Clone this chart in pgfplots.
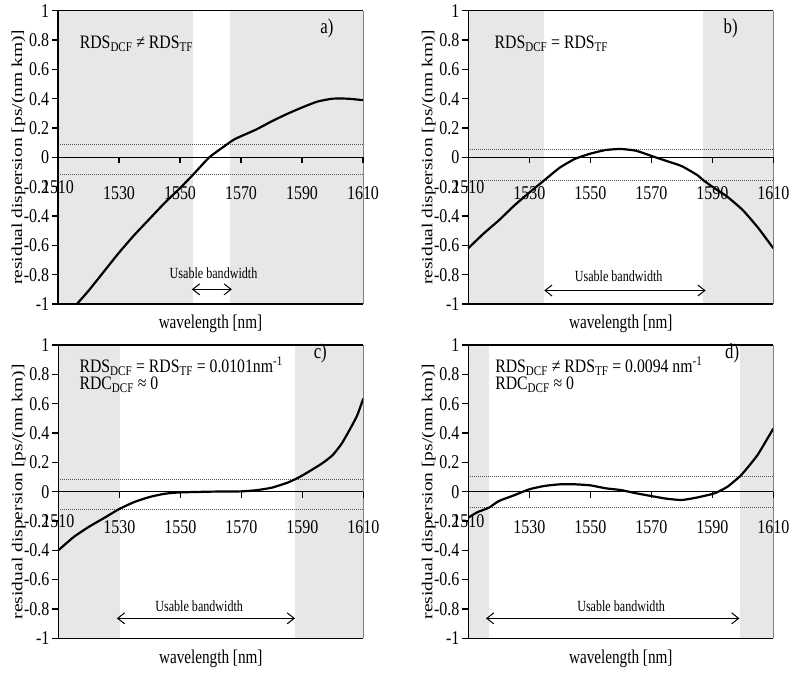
\documentclass[border=0pt]{standalone}
\usepackage{pgfplots}
\pgfplotsset{compat=1.18}
\usepackage{fontspec}
\setmainfont{Liberation Serif}
\usetikzlibrary{arrows.meta}

\definecolor{band}{RGB}{231,231,231}
\definecolor{tol}{RGB}{80,80,80}

\newcommand\tickfont{\fontsize{19.5bp}{21bp}\selectfont}
\newcommand\notefont{\fontsize{19bp}{21bp}\selectfont}
\newcommand\bwfont{\fontsize{15.5bp}{17bp}\selectfont}
\newcommand\tagfont{\fontsize{21bp}{23bp}\selectfont}

\pgfplotsset{
  dpanel/.style={
    scale only axis, width=305bp, height=293.3bp,
    xmin=1510, xmax=1610, ymin=-1, ymax=1,
    clip=false,
    axis x line=middle, axis y line=left,
    x axis line style={-, line width=1.1bp},
    y axis line style={-, line width=1.3bp},
    axis on top,
    xtick={1510,1530,1550,1570,1590,1610},
    xticklabels={1510,1530,1550,1570,1590,1610},
    ytick={-1,-0.8,-0.6,-0.4,-0.2,0,0.2,0.4,0.6,0.8,1},
    yticklabels={-1,-0.8,-0.6,-0.4,-0.2,0,0.2,0.4,0.6,0.8,1},
    tick align=outside,
    xtick align=outside,
    major tick length=6bp,
    tick style={black, line width=1.1bp},
    xticklabel style={font=\tickfont, xscale=0.82, anchor=center, yshift=-29.3bp},
    yticklabel style={font=\tickfont, xscale=0.82},
    xlabel={wavelength [nm]},
    ylabel={residual dispersion [ps/(nm km)]},
    xlabel style={at={(rel axis cs:0.5,-0.0852)}, anchor=base, font=\tickfont, xscale=0.78},
    ylabel style={at={(rel axis cs:-0.118,0.5)}, anchor=base, font=\tickfont, yscale=0.78},
  },
  shade/.style={draw=none, fill=band},
  tolline/.style={tol, line width=0.9bp, dash pattern=on 1bp off 1bp},
  curve/.style={black, line width=2.2bp, smooth, tension=0.3},
}

\tikzset{
  frame/.style={black, line width=1.1bp},
  bw/.style={{Straight Barb[length=7bp,width=11bp]}-{Straight Barb[length=7bp,width=11bp]}, line width=1bp},
  firsttick/.style={font=\tickfont, xscale=0.82, yshift=-29.3bp},
  xtickmark/.style={black, line width=1.1bp},
}

% frame, tick marks below the zero line and the leftmost tick label
\newcommand\panelframe{%
  \draw[frame] (rel axis cs:0,1) -- (rel axis cs:1,1);
  \draw[frame] (rel axis cs:0,0) -- (rel axis cs:1,0);
  \draw[gray, line width=0.8bp] (rel axis cs:1,0) -- (rel axis cs:1,1);
  \draw[xtickmark] (axis cs:1530,0) -- ([yshift=-6bp]axis cs:1530,0);
  \draw[xtickmark] (axis cs:1550,0) -- ([yshift=-6bp]axis cs:1550,0);
  \draw[xtickmark] (axis cs:1570,0) -- ([yshift=-6bp]axis cs:1570,0);
  \draw[xtickmark] (axis cs:1590,0) -- ([yshift=-6bp]axis cs:1590,0);
  \draw[xtickmark] (axis cs:1610,0) -- ([yshift=-6bp]axis cs:1610,0);
  \node[firsttick] at (axis cs:1510,0) {1510};
}

\begin{document}
\begin{tikzpicture}
\path[use as bounding box] (0,0) rectangle (790bp,675bp);

% (a) mismatched RDS
\begin{axis}[dpanel, at={(58bp,371bp)}, anchor=south west]
  \addplot[shade] coordinates {(1510,-1) (1554.3,-1) (1554.3,1) (1510,1)} -- cycle;
  \addplot[shade] coordinates {(1566.4,-1) (1610,-1) (1610,1) (1566.4,1)} -- cycle;
  \addplot[tolline] coordinates {(1510,0.087) (1610,0.087)};
  \addplot[tolline] coordinates {(1510,-0.118) (1610,-0.118)};
  \addplot[curve] coordinates {
    (1516.2,-1.0) (1520,-0.91) (1525,-0.78) (1530,-0.65) (1535,-0.53)
    (1540,-0.42) (1545,-0.31) (1550,-0.21) (1554.3,-0.118) (1559.6,0.0)
    (1565.5,0.09) (1568,0.125) (1575,0.19) (1580,0.245) (1585,0.295)
    (1590,0.34) (1595,0.38) (1600,0.40) (1605,0.40) (1610,0.39)};
  \panelframe
  \node[anchor=base west, font=\notefont, xscale=0.83] at (axis cs:1516.2,0.744)
    {RDS\textsubscript{DCF} ≠ RDS\textsubscript{TF}};
  \node[anchor=base, font=\tagfont, xscale=0.8] at (axis cs:1598.2,0.846) {a)};
  \node[anchor=base, font=\bwfont, xscale=0.78] at (axis cs:1561,-0.824) {Usable bandwidth};
  \draw[bw] (axis cs:1553.9,-0.90) -- (axis cs:1567,-0.90);
\end{axis}

% (b) matched RDS
\begin{axis}[dpanel, at={(468.3bp,371bp)}, anchor=south west]
  \addplot[shade] coordinates {(1510,-1) (1534.9,-1) (1534.9,1) (1510,1)} -- cycle;
  \addplot[shade] coordinates {(1587,-1) (1610,-1) (1610,1) (1587,1)} -- cycle;
  \addplot[tolline] coordinates {(1510,0.057) (1610,0.057)};
  \addplot[tolline] coordinates {(1510,-0.155) (1610,-0.155)};
  \addplot[curve] coordinates {
    (1510,-0.62) (1515,-0.52) (1520,-0.43) (1525,-0.33) (1530,-0.24)
    (1535,-0.155) (1540,-0.07) (1545,-0.01) (1550,0.025) (1555,0.05)
    (1560,0.057) (1565,0.045) (1570,0.01) (1575,-0.025) (1580,-0.06)
    (1585,-0.12) (1587,-0.155) (1590,-0.20) (1595,-0.27) (1600,-0.36)
    (1605,-0.48) (1610,-0.62)};
  \panelframe
  \node[anchor=base west, font=\notefont, xscale=0.83] at (axis cs:1517.7,0.744)
    {RDS\textsubscript{DCF} = RDS\textsubscript{TF}};
  \node[anchor=base, font=\tagfont, xscale=0.8] at (axis cs:1596,0.846) {b)};
  \node[anchor=base, font=\bwfont, xscale=0.78] at (axis cs:1559.3,-0.846) {Usable bandwidth};
  \draw[bw] (axis cs:1534.9,-0.908) -- (axis cs:1587.8,-0.908);
\end{axis}

% (c) matched RDS, RDC ~ 0
\begin{axis}[dpanel, at={(58.3bp,36.7bp)}, anchor=south west]
  \addplot[shade] coordinates {(1510,-1) (1530.2,-1) (1530.2,1) (1510,1)} -- cycle;
  \addplot[shade] coordinates {(1587.6,-1) (1610,-1) (1610,1) (1587.6,1)} -- cycle;
  \addplot[tolline] coordinates {(1510,0.084) (1610,0.084)};
  \addplot[tolline] coordinates {(1510,-0.123) (1610,-0.123)};
  \addplot[curve] coordinates {
    (1510,-0.40) (1515,-0.31) (1520,-0.24) (1525,-0.18) (1530,-0.118)
    (1535,-0.07) (1540,-0.036) (1545,-0.014) (1550,-0.005) (1560,0.0)
    (1570,0.002) (1575,0.01) (1580,0.027) (1585,0.06) (1587.6,0.084)
    (1590,0.11) (1594,0.16) (1597,0.20) (1600,0.25) (1603,0.33)
    (1606,0.44) (1608,0.52) (1610,0.635)};
  \panelframe
  \node[anchor=base west, font=\notefont, xscale=0.83] at (axis cs:1516,0.811)
    {RDS\textsubscript{DCF} = RDS\textsubscript{TF} = 0.0101nm\textsuperscript{-1}};
  \node[anchor=base west, font=\notefont, xscale=0.83] at (axis cs:1516,0.697)
    {RDC\textsubscript{DCF} ≈ 0};
  \node[anchor=base, font=\tagfont, xscale=0.8] at (axis cs:1595.9,0.907) {c)};
  \node[anchor=base, font=\bwfont, xscale=0.78] at (axis cs:1556.2,-0.816) {Usable bandwidth};
  \draw[bw] (axis cs:1529.2,-0.864) -- (axis cs:1587.6,-0.864);
\end{axis}

% (d) mismatched RDS, RDC ~ 0
\begin{axis}[dpanel, at={(468.3bp,36.7bp)}, anchor=south west]
  \addplot[shade] coordinates {(1510,-1) (1516.8,-1) (1516.8,1) (1510,1)} -- cycle;
  \addplot[shade] coordinates {(1599.2,-1) (1610,-1) (1610,1) (1599.2,1)} -- cycle;
  \addplot[tolline] coordinates {(1510,0.107) (1610,0.107)};
  \addplot[tolline] coordinates {(1510,-0.109) (1610,-0.109)};
  \addplot[curve] coordinates {
    (1510,-0.177) (1513,-0.14) (1516.8,-0.109) (1520,-0.064) (1525,-0.025)
    (1530,0.016) (1535,0.039) (1540,0.05) (1545,0.05) (1550,0.043)
    (1555,0.023) (1560,0.011) (1565,-0.011) (1570,-0.03) (1575,-0.048)
    (1580,-0.057) (1585,-0.04) (1590,-0.016) (1592,0.0) (1595,0.034)
    (1599.2,0.107) (1602,0.175) (1605,0.255) (1610,0.43)};
  \panelframe
  \node[anchor=base west, font=\notefont, xscale=0.83] at (axis cs:1517.9,0.811)
    {RDS\textsubscript{DCF} ≠ RDS\textsubscript{TF} = 0.0094 nm\textsuperscript{-1}};
  \node[anchor=base west, font=\notefont, xscale=0.83] at (axis cs:1517.9,0.697)
    {RDC\textsubscript{DCF} ≈ 0};
  \node[anchor=base, font=\tagfont, xscale=0.8] at (axis cs:1596.5,0.907) {d)};
  \node[anchor=base, font=\bwfont, xscale=0.78] at (axis cs:1560.1,-0.816) {Usable bandwidth};
  \draw[bw] (axis cs:1515.8,-0.864) -- (axis cs:1598.9,-0.864);
\end{axis}
\end{tikzpicture}
\end{document}
